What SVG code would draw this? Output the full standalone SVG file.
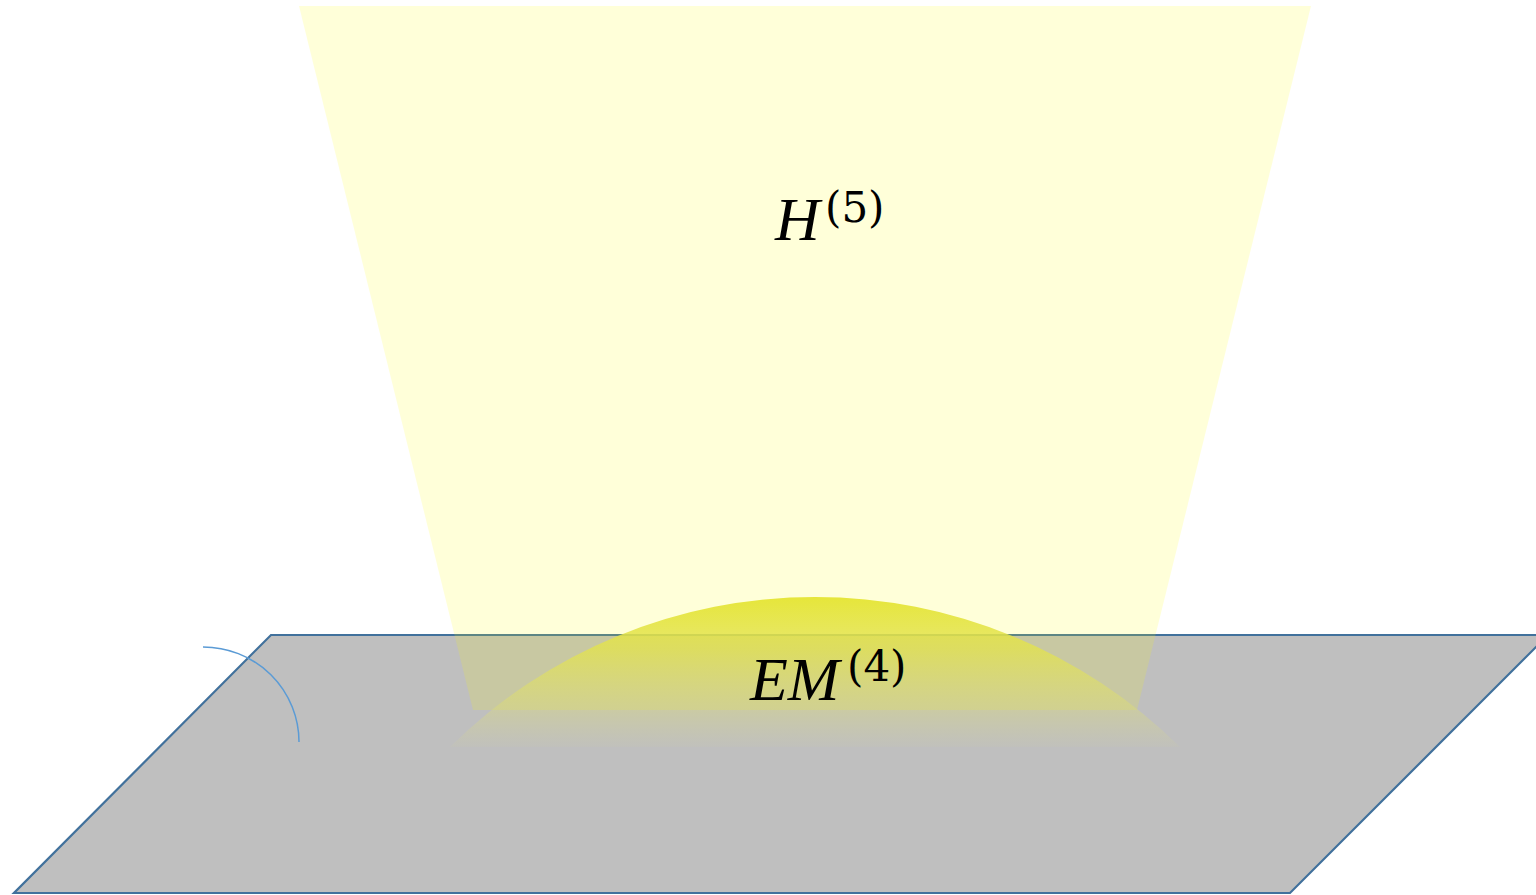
<svg xmlns="http://www.w3.org/2000/svg" width="1536" height="895" viewBox="0 0 1536 895">
<defs>
<style>
.lbl{fill:#000}
.it{font-family:"Liberation Serif","DejaVu Serif",serif;font-style:italic;font-size:62px}
.sup{font-family:"DejaVu Serif","Liberation Serif",serif;font-size:42px}
</style>
<linearGradient id="dome" x1="0" y1="0" x2="0" y2="1">
<stop offset="0" stop-color="#E6E63A" stop-opacity="1"/>
<stop offset="0.35" stop-color="#E2E250" stop-opacity="0.8"/>
<stop offset="1" stop-color="#E0E080" stop-opacity="0.05"/>
</linearGradient>
</defs>
<rect width="1536" height="895" fill="#FFFFFF"/>
<g id="plane">
<polygon points="271,635 1548,635 1290,893 14,893" fill="#BFBFBF" stroke="#41719C" stroke-width="2.2"/>
</g>
<g id="h5">
<polygon points="299,6 1311,6 1137,710 473,710" fill="#FFFF00" fill-opacity="0.15"/>
<text class="lbl it" x="775" y="240">H</text>
<text class="lbl sup" x="825" y="222">(5)</text>
</g>
<g id="em4">
<path d="M 450 747 A 519 519 0 0 1 1180 747 Z" fill="url(#dome)"/>
<text class="lbl it" x="750" y="700">EM</text>
<text class="lbl sup" x="847" y="681">(4)</text>
</g>
<g id="connectors">
<path d="M 203 647 A 96 95 0 0 1 299 742" fill="none" stroke="#5B9BD5" stroke-width="1.5"/>
</g>
</svg>
